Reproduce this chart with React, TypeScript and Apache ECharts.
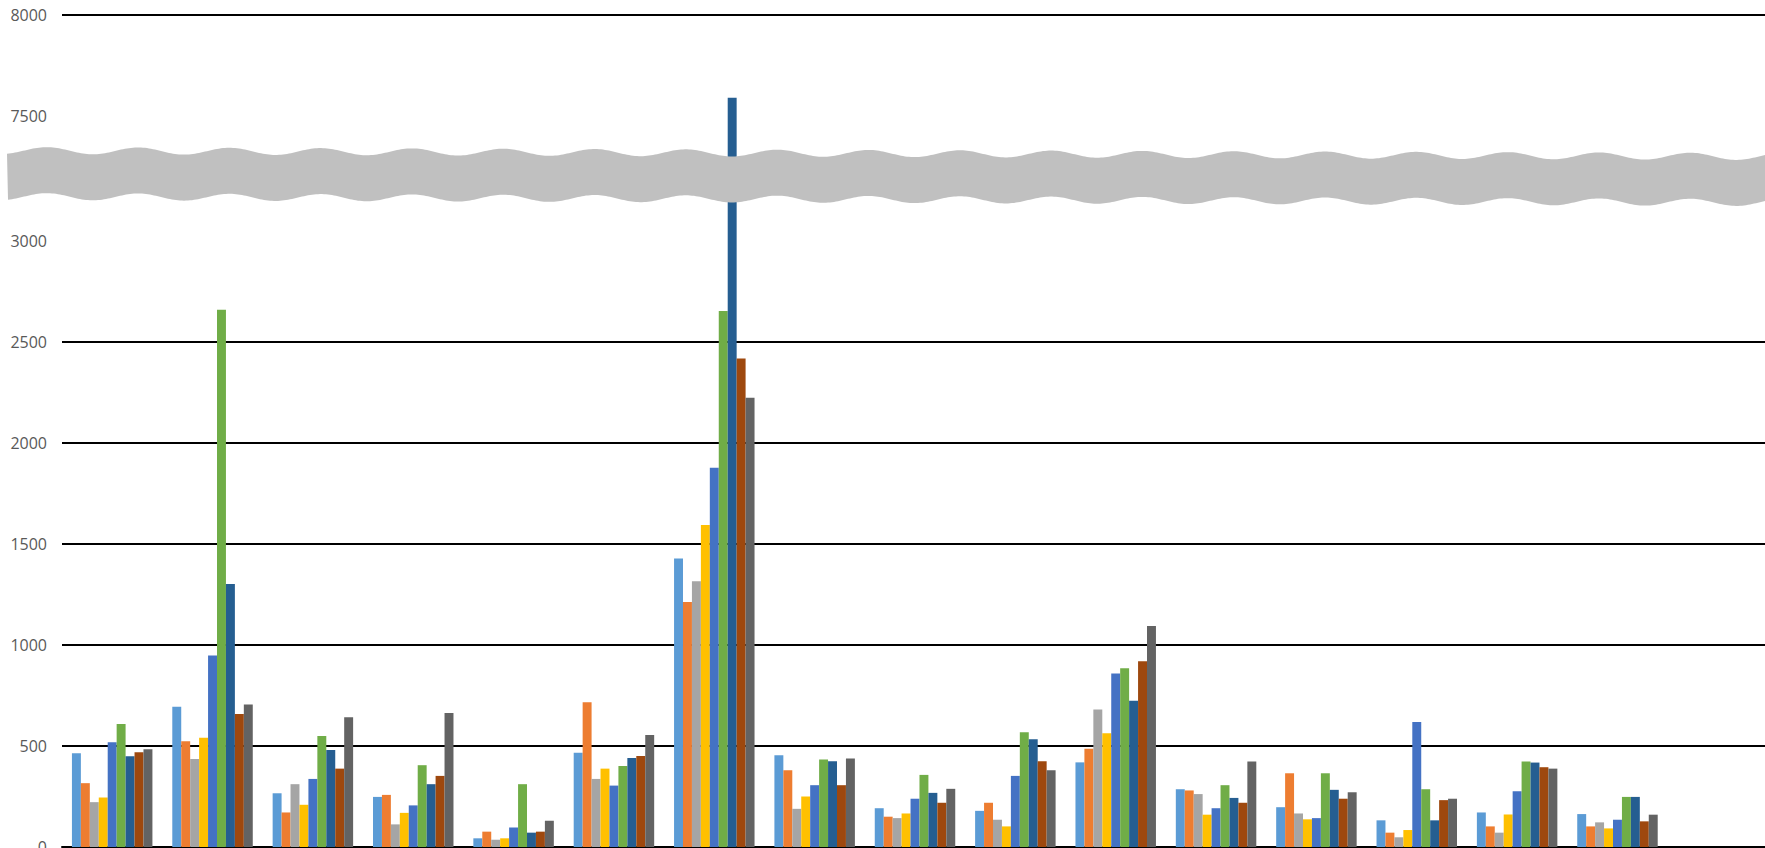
import React, { useEffect, useRef } from "react";
import * as echarts from "echarts";

const categories = ["1", "2", "3", "4", "5", "6", "7", "8", "9", "10", "11", "12", "13", "14", "15", "16", "17"];
const seriesNames = ["Series 1", "Series 2", "Series 3", "Series 4", "Series 5", "Series 6", "Series 7", "Series 8", "Series 9"];
const seriesColors = ["#5B9BD5", "#ED7D31", "#A5A5A5", "#FFC000", "#4472C4", "#70AD47", "#255E91", "#9E480E", "#636363"];

const s1 = [464, 694, 266, 248, 43, 467, 1428, 454, 192, 179, 419, 286, 197, 132, 171, 163, null];
const s2 = [316, 523, 171, 258, 76, 717, 1213, 380, 150, 219, 487, 280, 365, 71, 102, 102, null];
const s3 = [222, 436, 311, 112, 36, 337, 1316, 189, 143, 135, 681, 262, 166, 48, 71, 122, null];
const s4 = [245, 541, 209, 169, 43, 388, 1594, 250, 166, 102, 563, 160, 137, 84, 161, 92, null];
const s5 = [518, 948, 337, 206, 97, 304, 1878, 306, 239, 352, 859, 192, 143, 619, 276, 135, null];
const s6 = [609, 2660, 549, 405, 311, 401, 2653, 433, 357, 568, 885, 306, 365, 286, 423, 248, null];
const s7 = [449, 1302, 480, 311, 71, 441, 7590, 424, 268, 533, 724, 243, 283, 132, 418, 248, null];
const s8 = [469, 658, 388, 352, 76, 451, 2418, 306, 219, 424, 920, 219, 239, 232, 395, 127, null];
const s9 = [484, 706, 642, 663, 130, 554, 2224, 438, 288, 380, 1094, 423, 271, 239, 388, 160, null];
const seriesValues = [s1, s2, s3, s4, s5, s6, s7, s8, s9];

const yMin = 0;
const yMax = 8000;
const yInterval = 500;
const breakStart = 3000;
const breakEnd = 7500;

function wavePoints(): number[][] {
  const topY = (x: number) => 150.5 + (x / 1765) * 6 - 3.5 * Math.cos((2 * Math.PI * (x - 47)) / 91.3);
  const pts: number[][] = [];
  const x0 = 7;
  const x1 = 1770;
  for (let x = x0; x <= x1; x += 2) pts.push([x, topY(x)]);
  for (let x = x1; x >= x0; x -= 2) pts.push([x, topY(x) + 46]);
  return pts;
}

export default function App() {
  const ref = useRef<HTMLDivElement>(null);
  useEffect(() => {
    if (!ref.current) return;
    const chart = echarts.init(ref.current, null, { renderer: "svg" });
    chart.setOption({
      animation: false,
      backgroundColor: "#ffffff",
      grid: { left: 62, right: -3, top: 15, bottom: 1, containLabel: false, outerBoundsMode: "none" },
      xAxis: {
        type: "category",
        data: categories,
        axisLabel: { show: false },
        axisTick: { show: false },
        axisLine: { show: true, lineStyle: { color: "#000000", width: 2 } },
        splitLine: { show: false },
      },
      yAxis: {
        type: "value",
        min: yMin,
        max: yMax,
        interval: yInterval,
        breaks: [{ start: breakStart, end: breakEnd, gap: 619 }],
        breakArea: {
          show: false,
          expandOnClick: false,
          itemStyle: { opacity: 0, borderWidth: 0, color: "rgba(0,0,0,0)" },
        },
        axisLine: { show: false },
        axisTick: { show: false },
        axisLabel: {
          color: "#595959",
          fontSize: 16,
          fontFamily: "Open Sans",
          margin: 15,
          formatter: (v: number) => String(v),
        },
        splitLine: { show: true, lineStyle: { color: "#000000", width: 2 } },
      },
      series: seriesValues.map((vals, i) => ({
        name: seriesNames[i],
        type: "bar",
        data: vals,
        barGap: "0%",
        barCategoryGap: "19.8%",
        itemStyle: { color: seriesColors[i] },
      })),
      graphic: [
        {
          type: "polygon",
          z: 100,
          silent: true,
          shape: { points: wavePoints() },
          style: { fill: "#C0C0C0", stroke: "none" },
        },
      ],
    });
    return () => chart.dispose();
  }, []);
  return (
    <div
      ref={ref}
      style={{ position: "absolute", left: 0, top: 0, width: 1765, height: 848 }}
    />
  );
}
